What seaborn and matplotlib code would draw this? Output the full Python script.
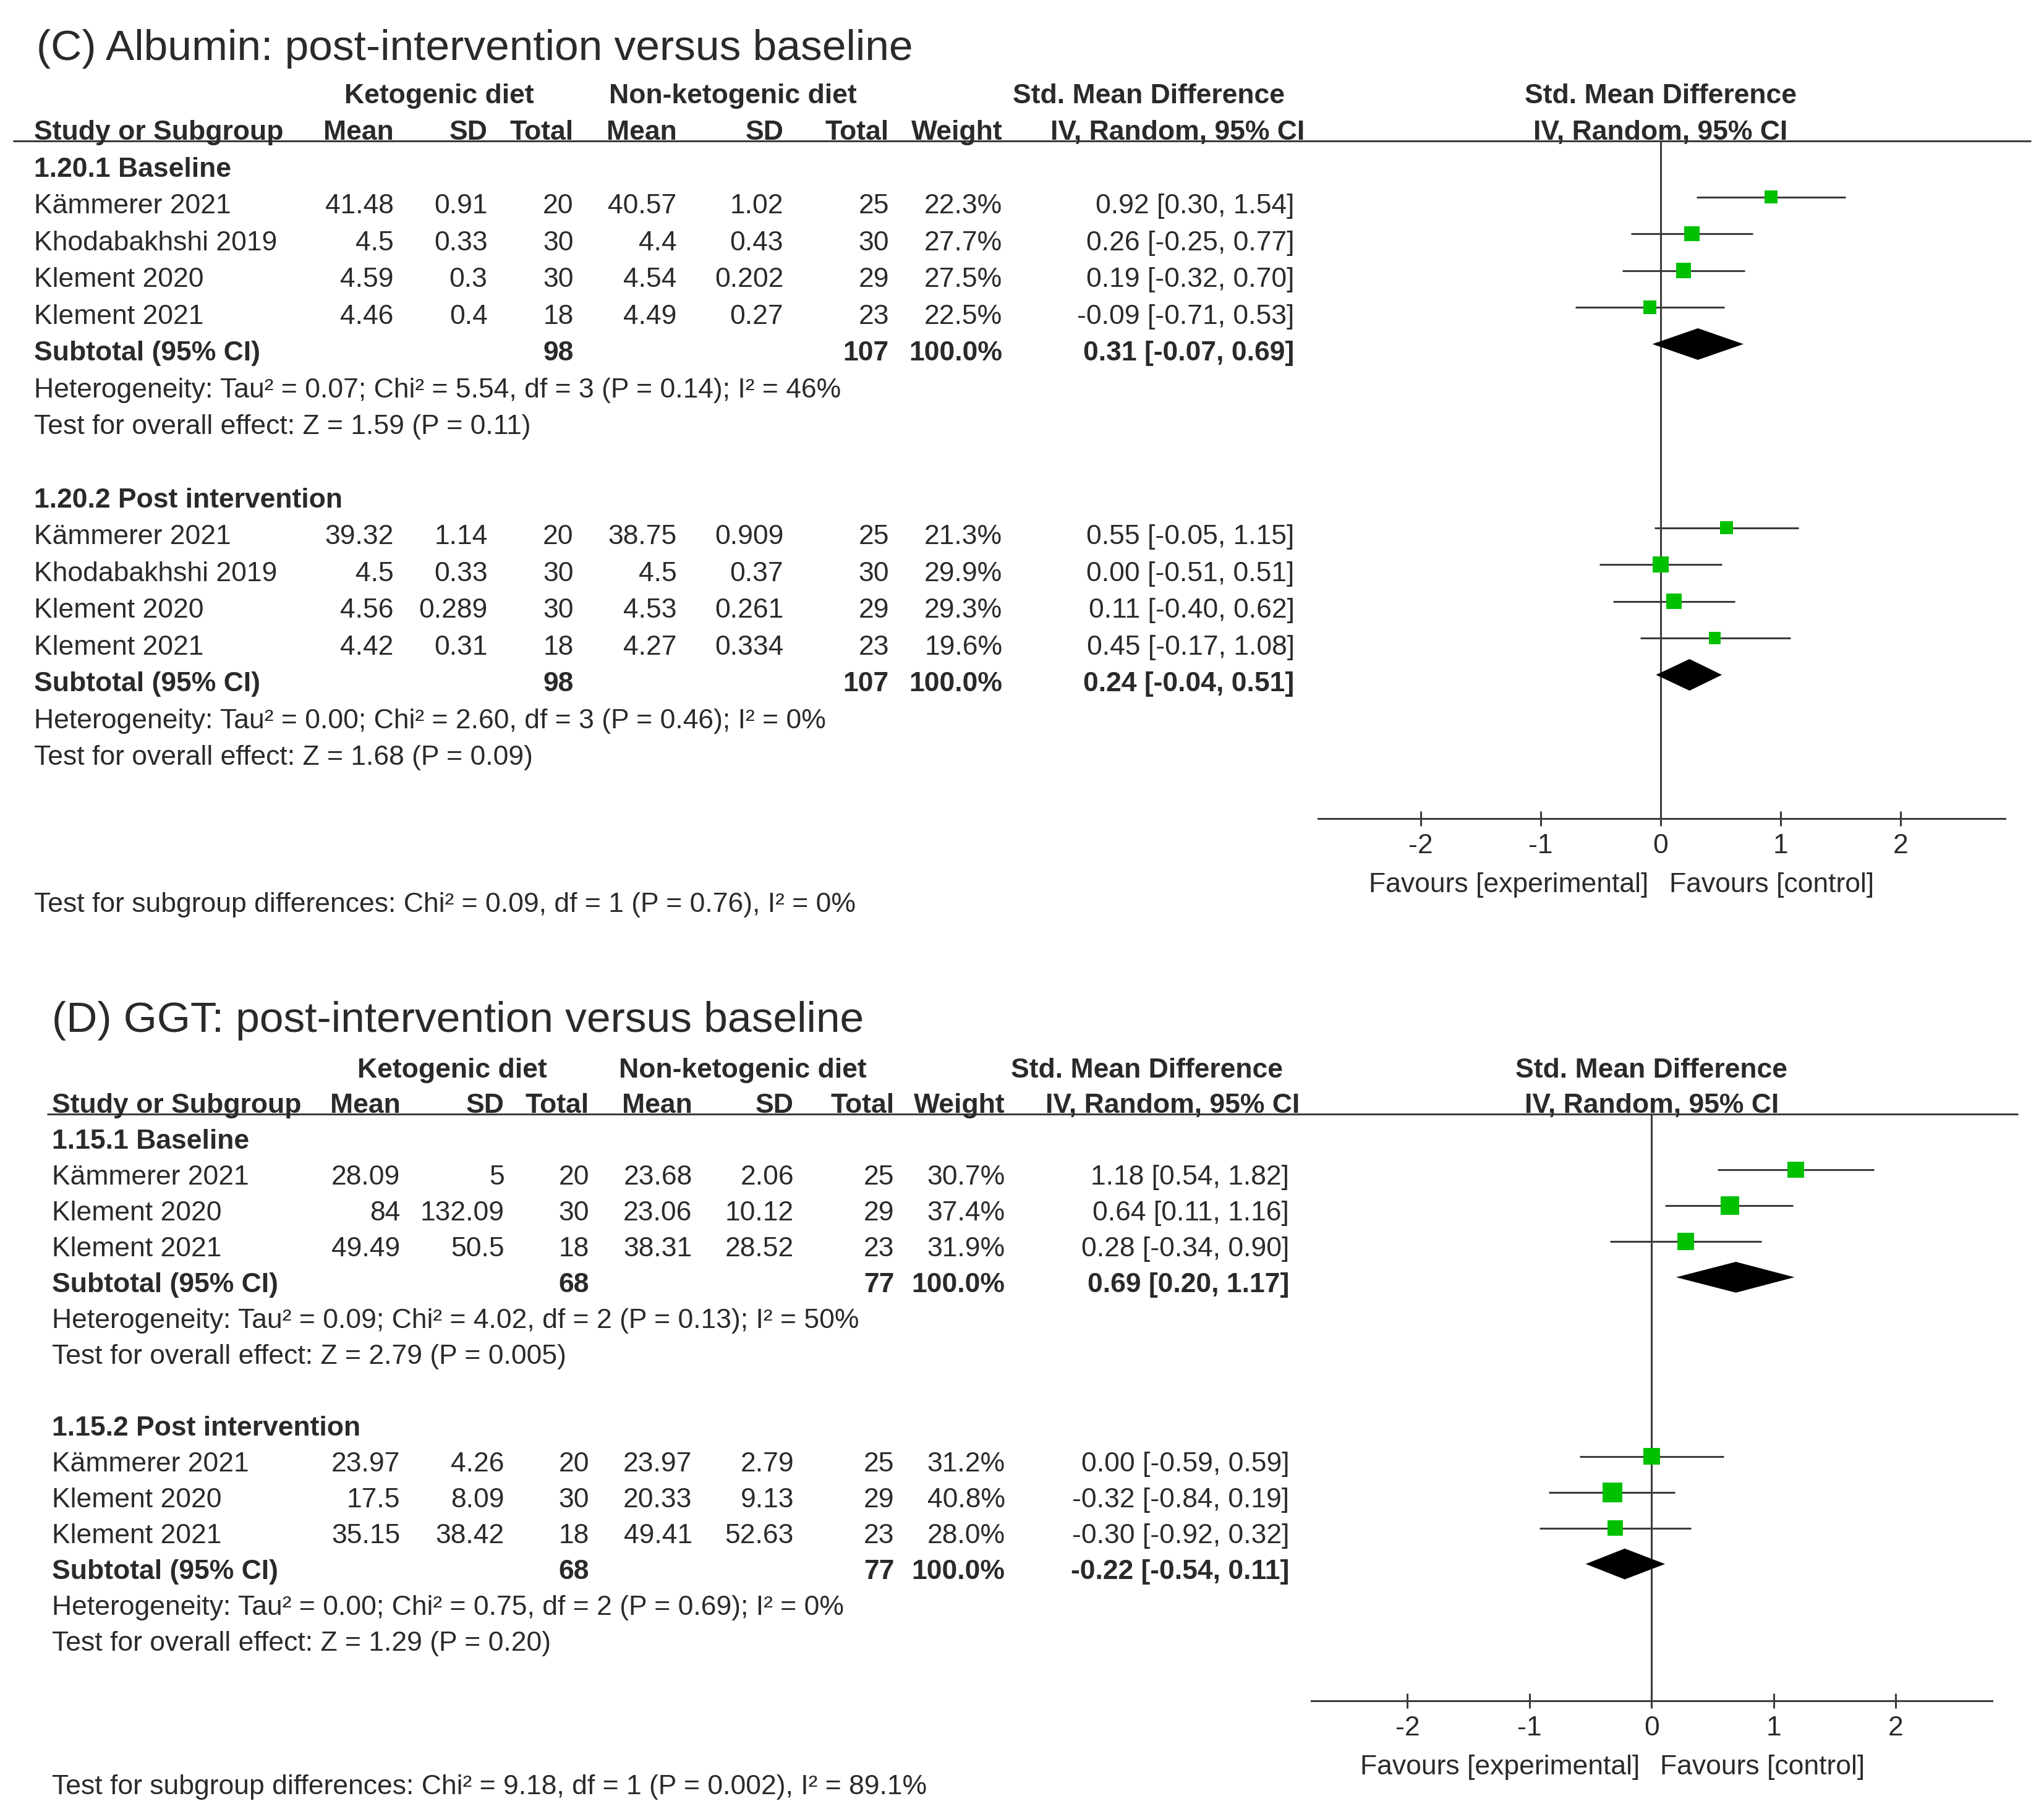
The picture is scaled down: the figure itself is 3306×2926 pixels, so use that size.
import matplotlib
matplotlib.use("Agg")
import matplotlib.pyplot as plt
import pandas as pd
import seaborn as sns

# ---------------- (C) Albumin ----------------
alb_title = "(C) Albumin: post-intervention versus baseline"
alb_groups = ["1.20.1 Baseline", "1.20.2 Post intervention"]

alb_base_study = ["Kämmerer 2021", "Khodabakhshi 2019", "Klement 2020", "Klement 2021"]
alb_base_keto_mean = [41.48, 4.5, 4.59, 4.46]
alb_base_keto_sd = [0.91, 0.33, 0.3, 0.4]
alb_base_keto_n = [20, 30, 30, 18]
alb_base_ctrl_mean = [40.57, 4.4, 4.54, 4.49]
alb_base_ctrl_sd = [1.02, 0.43, 0.202, 0.27]
alb_base_ctrl_n = [25, 30, 29, 23]
alb_base_weight = [22.3, 27.7, 27.5, 22.5]
alb_base_smd = [0.92, 0.26, 0.19, -0.09]
alb_base_lo = [0.30, -0.25, -0.32, -0.71]
alb_base_hi = [1.54, 0.77, 0.70, 0.53]
alb_base_pooled = [0.31, -0.07, 0.69]
alb_base_het = "Heterogeneity: Tau² = 0.07; Chi² = 5.54, df = 3 (P = 0.14); I² = 46%"
alb_base_z = "Test for overall effect: Z = 1.59 (P = 0.11)"

alb_post_study = ["Kämmerer 2021", "Khodabakhshi 2019", "Klement 2020", "Klement 2021"]
alb_post_keto_mean = [39.32, 4.5, 4.56, 4.42]
alb_post_keto_sd = [1.14, 0.33, 0.289, 0.31]
alb_post_keto_n = [20, 30, 30, 18]
alb_post_ctrl_mean = [38.75, 4.5, 4.53, 4.27]
alb_post_ctrl_sd = [0.909, 0.37, 0.261, 0.334]
alb_post_ctrl_n = [25, 30, 29, 23]
alb_post_weight = [21.3, 29.9, 29.3, 19.6]
alb_post_smd = [0.55, 0.00, 0.11, 0.45]
alb_post_lo = [-0.05, -0.51, -0.40, -0.17]
alb_post_hi = [1.15, 0.51, 0.62, 1.08]
alb_post_pooled = [0.24, -0.04, 0.51]
alb_post_het = "Heterogeneity: Tau² = 0.00; Chi² = 2.60, df = 3 (P = 0.46); I² = 0%"
alb_post_z = "Test for overall effect: Z = 1.68 (P = 0.09)"
alb_subgroup = "Test for subgroup differences: Chi² = 0.09, df = 1 (P = 0.76), I² = 0%"

# ---------------- (D) GGT ----------------
ggt_title = "(D) GGT: post-intervention versus baseline"
ggt_groups = ["1.15.1 Baseline", "1.15.2 Post intervention"]

ggt_base_study = ["Kämmerer 2021", "Klement 2020", "Klement 2021"]
ggt_base_keto_mean = [28.09, 84, 49.49]
ggt_base_keto_sd = [5, 132.09, 50.5]
ggt_base_keto_n = [20, 30, 18]
ggt_base_ctrl_mean = [23.68, 23.06, 38.31]
ggt_base_ctrl_sd = [2.06, 10.12, 28.52]
ggt_base_ctrl_n = [25, 29, 23]
ggt_base_weight = [30.7, 37.4, 31.9]
ggt_base_smd = [1.18, 0.64, 0.28]
ggt_base_lo = [0.54, 0.11, -0.34]
ggt_base_hi = [1.82, 1.16, 0.90]
ggt_base_pooled = [0.69, 0.20, 1.17]
ggt_base_het = "Heterogeneity: Tau² = 0.09; Chi² = 4.02, df = 2 (P = 0.13); I² = 50%"
ggt_base_z = "Test for overall effect: Z = 2.79 (P = 0.005)"

ggt_post_study = ["Kämmerer 2021", "Klement 2020", "Klement 2021"]
ggt_post_keto_mean = [23.97, 17.5, 35.15]
ggt_post_keto_sd = [4.26, 8.09, 38.42]
ggt_post_keto_n = [20, 30, 18]
ggt_post_ctrl_mean = [23.97, 20.33, 49.41]
ggt_post_ctrl_sd = [2.79, 9.13, 52.63]
ggt_post_ctrl_n = [25, 29, 23]
ggt_post_weight = [31.2, 40.8, 28.0]
ggt_post_smd = [0.00, -0.32, -0.30]
ggt_post_lo = [-0.59, -0.84, -0.92]
ggt_post_hi = [0.59, 0.19, 0.32]
ggt_post_pooled = [-0.22, -0.54, 0.11]
ggt_post_het = "Heterogeneity: Tau² = 0.00; Chi² = 0.75, df = 2 (P = 0.69); I² = 0%"
ggt_post_z = "Test for overall effect: Z = 1.29 (P = 0.20)"
ggt_subgroup = "Test for subgroup differences: Chi² = 9.18, df = 1 (P = 0.002), I² = 89.1%"

forest_ticks = [-2, -1, 0, 1, 2]


def make_sub(study, km, ksd, kn, cm, csd, cn, w, smd, lo, hi, pooled, het, z):
    df = pd.DataFrame({"study": study, "km": km, "ksd": ksd, "kn": kn, "cm": cm,
                       "csd": csd, "cn": cn, "w": w, "smd": smd, "lo": lo, "hi": hi})
    return {"df": df, "pooled": pooled, "het": het, "z": z}


sns.set_theme(style="white")
plt.rcParams["font.family"] = ["Liberation Sans", "DejaVu Sans"]
plt.rcParams["axes.unicode_minus"] = False

TXT = "#2a2a2a"
LN = "#3c3c3c"
GREEN = "#00c000"
FS = 32
VA = "center_baseline"
W, H = 1568, 1388  # layout units (reference pixels / 2.108)

fig = plt.figure(figsize=(33.06, 29.26), dpi=100)
fig.patch.set_facecolor("white")
bg = fig.add_axes([0, 0, 1, 1])
bg.set_xlim(0, W)
bg.set_ylim(H, 0)
bg.axis("off")


def fmt(v):
    return f"{v:g}"


def put(x, y, s, bold=False, ha="left"):
    bg.text(x, y, s, fontsize=FS, fontweight="bold" if bold else "normal", color=TXT,
            ha=ha, va=VA)


def draw_panel(title, groups, subs, subgroup_txt, lay):
    x0 = lay["left"]
    cols = lay["cols"]
    y0, p = lay["y0"], lay["pitch"]
    rowy = lambda i: y0 + p * i

    bg.text(lay["title_x"], lay["title_y"], title, fontsize=50, color=TXT, va=VA, ha="left")
    hy1, hy2 = rowy(-2), rowy(-1)
    for lbl, cx in zip(["Ketogenic diet", "Non-ketogenic diet", "Std. Mean Difference"],
                       lay["grp_cx"]):
        put(cx, hy1, lbl, bold=True, ha="center")
    put(x0, hy2, "Study or Subgroup", bold=True)
    for lbl, cx in zip(["Mean", "SD", "Total", "Mean", "SD", "Total", "Weight"], cols[:7]):
        put(cx, hy2, lbl, bold=True, ha="right")
    put(lay["iv_right"], hy2, "IV, Random, 95% CI", bold=True, ha="right")
    fl, fr = lay["forest"]
    xl = lay["xlim"]
    fcx = fl + (0 - xl[0]) / (xl[1] - xl[0]) * (fr - fl)
    put(fcx, hy1, "Std. Mean Difference", bold=True, ha="center")
    put(fcx, hy2, "IV, Random, 95% CI", bold=True, ha="center")
    bg.plot(lay["hline"], [lay["line_y"]] * 2, color=LN, lw=2.2, solid_capstyle="butt")

    # forest axes
    top, bot = lay["line_y"], lay["axis_y"]
    ax = fig.add_axes([fl / W, 1 - bot / H, (fr - fl) / W, (bot - top) / H])
    off = lay["mark_off"]
    ax.set_ylim((bot - y0 + off) / p, (top - y0 + off) / p)
    ax.set_xlim(*xl)
    ax.set_facecolor("none")

    i = 0
    for g, sub in zip(groups, subs):
        df = sub["df"]
        put(x0, rowy(i), g, bold=True)
        rows = [i + 1 + k for k in range(len(df))]
        for r, (_, d) in zip(rows, df.iterrows()):
            y = rowy(r)
            put(x0, y, d["study"])
            vals = [fmt(d["km"]), fmt(d["ksd"]), f"{int(d['kn'])}", fmt(d["cm"]), fmt(d["csd"]),
                    f"{int(d['cn'])}", f"{d['w']:.1f}%",
                    f"{d['smd']:.2f} [{d['lo']:.2f}, {d['hi']:.2f}]"]
            for v, cx in zip(vals, cols):
                put(cx, y, v, ha="right")
        df = df.assign(row=rows, side=(8 + 0.6 * df["w"]) / 1.389)
        ax.hlines(df["row"], df["lo"], df["hi"], color=LN, lw=2.2, zorder=2)
        sns.scatterplot(data=df, x="smd", y="row", marker="s", s=df["side"] ** 2,
                        color=GREEN, linewidth=0, ax=ax, zorder=3, legend=False)
        rs = rows[-1] + 1
        ys = rowy(rs)
        put(x0, ys, "Subtotal (95% CI)", bold=True)
        est, lo, hi = sub["pooled"]
        tot = [f"{df['kn'].sum()}", f"{df['cn'].sum()}", "100.0%",
               f"{est:.2f} [{lo:.2f}, {hi:.2f}]"]
        for v, cx in zip(tot, [cols[2], cols[5], cols[6], cols[7]]):
            put(cx, ys, v, bold=True, ha="right")
        dh = 0.43
        ax.fill([lo, est, hi, est], [rs, rs - dh, rs, rs + dh], color="black", lw=0, zorder=3)
        put(x0, rowy(rs + 1), sub["het"])
        put(x0, rowy(rs + 2), sub["z"])
        last = rs + 2
        i = rs + 4
    put(x0, rowy(last + 4), subgroup_txt)

    ax.axvline(0, color=LN, lw=2.2, zorder=1)
    for s in ["left", "right", "top"]:
        ax.spines[s].set_visible(False)
    ax.spines["bottom"].set_color(LN)
    ax.spines["bottom"].set_linewidth(2.2)
    ax.set_yticks([])
    ax.set_xticks(forest_ticks)
    ax.set_xticklabels([str(t) for t in forest_ticks])
    ax.tick_params(axis="x", direction="inout", length=17, width=2.2, color=LN,
                   labelsize=FS, labelcolor=TXT, pad=9, bottom=True)
    ax.set_xlabel("")
    ax.set_ylabel("")
    ax.annotate("Favours [experimental]", xy=(0, 0), xycoords=("data", "axes fraction"),
                xytext=(-14, -74), textcoords="offset points", ha="right", va=VA,
                fontsize=FS, color=TXT)
    ax.annotate("Favours [control]", xy=(0, 0), xycoords=("data", "axes fraction"),
                xytext=(10, -74), textcoords="offset points", ha="left", va=VA,
                fontsize=FS, color=TXT)


alb_subs = [
    make_sub(alb_base_study, alb_base_keto_mean, alb_base_keto_sd, alb_base_keto_n,
             alb_base_ctrl_mean, alb_base_ctrl_sd, alb_base_ctrl_n, alb_base_weight,
             alb_base_smd, alb_base_lo, alb_base_hi, alb_base_pooled, alb_base_het, alb_base_z),
    make_sub(alb_post_study, alb_post_keto_mean, alb_post_keto_sd, alb_post_keto_n,
             alb_post_ctrl_mean, alb_post_ctrl_sd, alb_post_ctrl_n, alb_post_weight,
             alb_post_smd, alb_post_lo, alb_post_hi, alb_post_pooled, alb_post_het, alb_post_z),
]
ggt_subs = [
    make_sub(ggt_base_study, ggt_base_keto_mean, ggt_base_keto_sd, ggt_base_keto_n,
             ggt_base_ctrl_mean, ggt_base_ctrl_sd, ggt_base_ctrl_n, ggt_base_weight,
             ggt_base_smd, ggt_base_lo, ggt_base_hi, ggt_base_pooled, ggt_base_het, ggt_base_z),
    make_sub(ggt_post_study, ggt_post_keto_mean, ggt_post_keto_sd, ggt_post_keto_n,
             ggt_post_ctrl_mean, ggt_post_ctrl_sd, ggt_post_ctrl_n, ggt_post_weight,
             ggt_post_smd, ggt_post_lo, ggt_post_hi, ggt_post_pooled, ggt_post_het, ggt_post_z),
]

alb_layout = {"left": 26, "cols": [302, 374, 440, 519, 601, 682, 769, 993], "iv_right": 1001,
              "grp_cx": [337, 562, 881], "y0": 128, "pitch": 28.2, "title_x": 28, "title_y": 34,
              "hline": [10, 1558], "line_y": 108, "axis_y": 628, "forest": [1011, 1538],
              "xlim": (-2.859, 2.870), "mark_off": 5}
ggt_layout = {"left": 40, "cols": [307, 387, 452, 531, 609, 686, 771, 989], "iv_right": 997,
              "grp_cx": [347, 570, 880], "y0": 874, "pitch": 27.5, "title_x": 40, "title_y": 780,
              "hline": [36, 1548], "line_y": 855, "axis_y": 1305, "forest": [1006, 1528],
              "xlim": (-2.786, 2.786), "mark_off": 4}

draw_panel(alb_title, alb_groups, alb_subs, alb_subgroup, alb_layout)
draw_panel(ggt_title, ggt_groups, ggt_subs, ggt_subgroup, ggt_layout)

fig.savefig("out.png", dpi=100, facecolor="white")
